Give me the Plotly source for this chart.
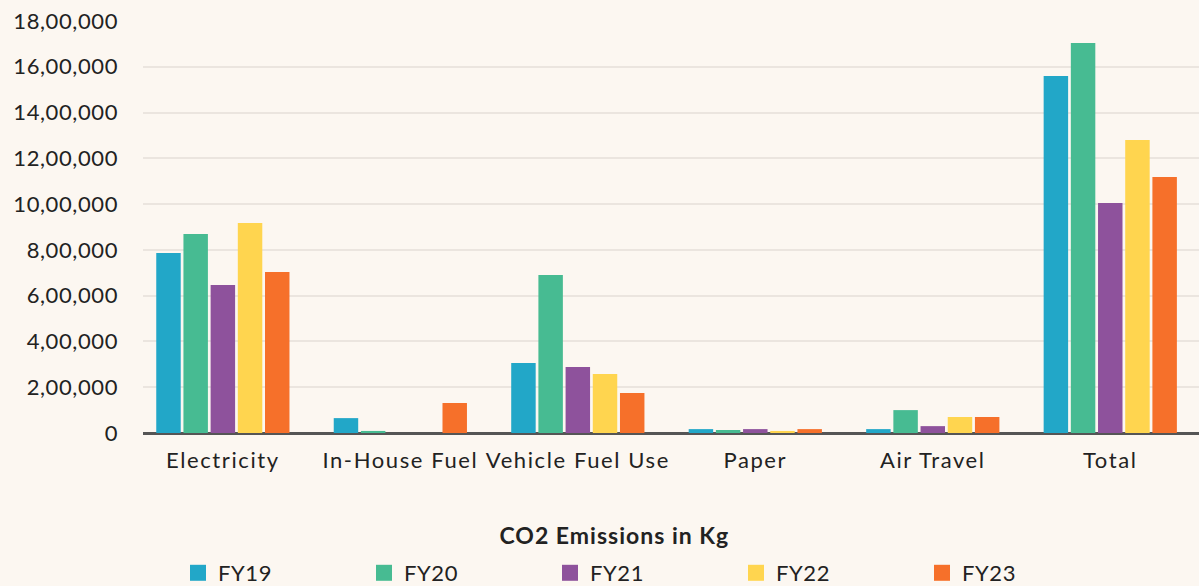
import plotly.graph_objects as go

categories = ["Electricity", "In-House Fuel", "Vehicle Fuel Use", "Paper", "Air Travel", "Total"]
fy19 = [786000, 65000, 306000, 17000, 17000, 1560000]
fy20 = [869000, 9000, 690000, 13000, 100000, 1704000]
fy21 = [647000, 0, 288000, 17000, 30000, 1005000]
fy22 = [917000, 0, 258000, 9000, 70000, 1280000]
fy23 = [703000, 131000, 175000, 17000, 70000, 1118000]
series_names = ["FY19", "FY20", "FY21", "FY22", "FY23"]
series_values = [fy19, fy20, fy21, fy22, fy23]
series_colors = ["#22a7c8", "#47bb92", "#8e529c", "#ffd54f", "#f6702a"]

tick_vals = [0, 200000, 400000, 600000, 800000, 1000000, 1200000, 1400000, 1600000, 1800000]
tick_text = ["0", "2,00,000", "4,00,000", "6,00,000", "8,00,000", "10,00,000",
             "12,00,000", "14,00,000", "16,00,000", "18,00,000"]
axis_title = "CO2 Emissions in Kg"

fig = go.Figure()
for name, vals, col in zip(series_names, series_values, series_colors):
    fig.add_trace(go.Bar(x=list(range(len(categories))), y=vals, name=name, marker_color=col,
                         marker_line_width=0, showlegend=False, legendgroup=name))
for name, col in zip(series_names, series_colors):
    fig.add_trace(go.Scatter(x=[None], y=[None], mode="markers", name=name, legendgroup=name,
                             marker=dict(symbol="square", size=16, color=col, line_width=0)))

bg = "#fcf7f1"
W, H = 1199, 586
fig.update_layout(
    width=W, height=H,
    paper_bgcolor=bg, plot_bgcolor=bg,
    font=dict(family="Lato", size=22, color="#222222"),
    margin=dict(l=143, r=0, t=21, b=153),
    barmode="group", bargap=0.234, bargroupgap=0.1,
    showlegend=True,
    legend=dict(orientation="h", xref="container", x=178 / W, xanchor="left",
                yref="container", y=1 - 573 / H, yanchor="middle",
                entrywidth=141, entrywidthmode="pixels", itemsizing="trace",
                font=dict(size=22), bgcolor="rgba(0,0,0,0)", itemclick=False),
    annotations=[dict(text="<b>" + axis_title + "</b>", xref="paper", yref="paper",
                      x=(614.5 - 143) / 1056, y=-(535 - 433) / 412,
                      xanchor="center", yanchor="middle", showarrow=False,
                      font=dict(size=23, color="#222222"))],
)
fig.update_xaxes(tickmode="array", tickvals=list(range(len(categories))), ticktext=categories,
                 range=[-0.45, 5.5], showgrid=False, zeroline=False, showline=False,
                 ticks="", ticklabelstandoff=12)
fig.update_yaxes(range=[0, 1800000], tickmode="array", tickvals=tick_vals, ticktext=tick_text,
                 showgrid=True, gridcolor="#ebe5df", gridwidth=2,
                 zeroline=True, zerolinecolor="#555555", zerolinewidth=3,
                 showline=False, ticks="", ticklabelstandoff=24)

post = (
    "document.body.style.margin='0';document.body.style.background='" + bg + "';"
    "document.querySelectorAll('.xtick text').forEach(function(t){t.style.letterSpacing='1.6px';});"
    "document.querySelectorAll('.ytick text').forEach(function(t){t.style.letterSpacing='0.6px';});"
    "document.querySelectorAll('.legendtext').forEach(function(t){t.style.letterSpacing='0.6px';});"
    "document.querySelectorAll('.annotation-text').forEach(function(t){t.style.letterSpacing='1px';});"
)
fig.write_html("out.html", post_script=post, config={"displayModeBar": False})
